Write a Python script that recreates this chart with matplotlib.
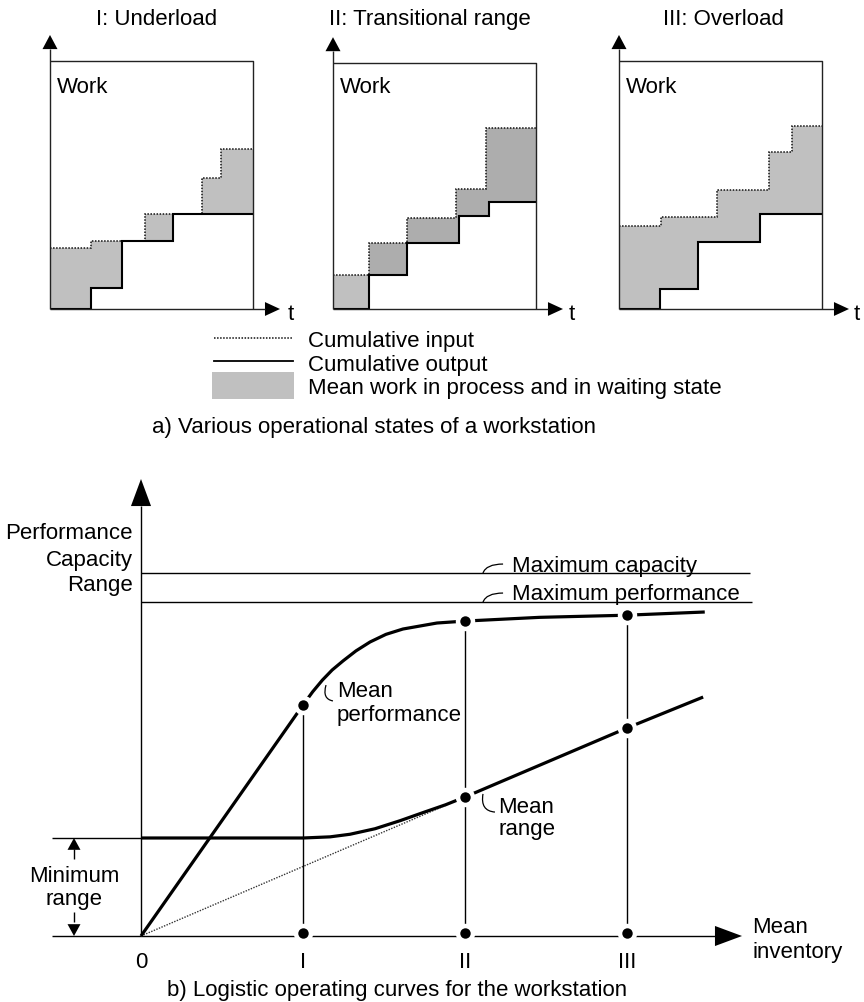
import numpy as np
import matplotlib.pyplot as plt
from matplotlib.path import Path
from matplotlib.patches import PathPatch, Rectangle

plt.rcParams['font.family'] = ['Liberation Sans', 'DejaVu Sans']
plt.rcParams['font.size'] = 16

'''
a) operating states of a workstation (throughput diagrams)
b) logistic operating curves
'''

# --- a) cumulative input / output staircases (time and work in % of the frame)
panel_titles = ['I: Underload', 'II: Transitional range', 'III: Overload']

underload_in_t = [0, 20, 47, 75, 84, 100]
underload_in_w = [24.5, 27.5, 38.3, 53.0, 64.5]
underload_out_t = [0, 20, 35.5, 60.6, 100]
underload_out_w = [0, 8.5, 27.5, 38.3]

transit_in_t = [0, 17.7, 36.5, 60.6, 75.4, 100]
transit_in_w = [13.7, 27.0, 37.1, 48.8, 73.4]
transit_out_t = [0, 17.7, 36.5, 62.1, 76.8, 100]
transit_out_w = [0, 13.7, 27.0, 37.9, 43.5]

overload_in_t = [0, 20.6, 48.5, 74.0, 85.3, 100]
overload_in_w = [33.5, 37.1, 48.0, 63.3, 73.8]
overload_out_t = [0, 20.1, 38.7, 69.6, 100]
overload_out_w = [0, 8.1, 27.0, 38.3]

legend_labels = ['Cumulative input', 'Cumulative output',
                 'Mean work in process and in waiting state']

# --- b) logistic operating curves (mean inventory vs. performance / range)
inv_ticks = [0, 1, 2, 3]
inv_labels = ['0', 'I', 'II', 'III']
max_capacity = 2.24
max_performance = 2.06
min_range = 0.605

perf_x = [0, 1.0, 1.06, 1.12, 1.18, 1.247, 1.327, 1.414, 1.512, 1.617, 1.827, 2.0, 2.46, 2.99, 3.48]
perf_y = [0, 1.426, 1.508, 1.58, 1.642, 1.698, 1.76, 1.815, 1.862, 1.895, 1.932, 1.944, 1.967, 1.98, 2.0]

range_x = [0, 1.0, 1.167, 1.29, 1.444, 1.6, 1.75, 1.88, 2.0, 3.0, 3.47]
range_y = [0.605, 0.605, 0.612, 0.628, 0.662, 0.712, 0.765, 0.81, 0.858, 1.284, 1.475]

ideal_range_x = [0, 2.0]
ideal_range_y = [0, 0.858]

state_x = [1, 2, 3]
state_perf = [1.426, 1.944, 1.98]
range_state_x = [2, 3]
range_state_y = [0.858, 1.284]

W, H = 864, 1003
fig = plt.figure(figsize=(W / 100, H / 100), dpi=100)


def px_axes(left, top, right, bottom):
    return fig.add_axes([left / W, 1 - bottom / H, (right - left) / W, (bottom - top) / H])


# overlay in pixel coordinates for texts and legend samples
ov = fig.add_axes([0, 0, 1, 1])
ov.set_xlim(0, W)
ov.set_ylim(H, 0)
ov.axis('off')

panel_left = [50, 333, 619]
panel_top = [62, 64, 62]
panel_bottom = 310
panel_width = 203
title_cx = [157, 430, 723]
t_label_x = [288, 569, 854]

panels = [
    (underload_in_t, underload_in_w, underload_out_t, underload_out_w, '#c0c0c0', '#c0c0c0'),
    (transit_in_t, transit_in_w, transit_out_t, transit_out_w, '#c0c0c0', '#adadad'),
    (overload_in_t, overload_in_w, overload_out_t, overload_out_w, '#c0c0c0', '#c0c0c0'),
]

for i, (in_t, in_w, out_t, out_w, first_col, rest_col) in enumerate(panels):
    ax = px_axes(panel_left[i], panel_top[i], panel_left[i] + panel_width, panel_bottom)
    ax.set_xlim(0, 100)
    ax.set_ylim(0, 100)
    ax.axis('off')

    # shaded work in process between input and output
    edges = np.union1d(in_t, out_t)
    for k in range(len(edges) - 1):
        a, b = edges[k], edges[k + 1]
        mid = (a + b) / 2
        hi = in_w[np.searchsorted(in_t, mid) - 1]
        lo = out_w[np.searchsorted(out_t, mid) - 1]
        if hi > lo:
            col = first_col if k == 0 else rest_col
            ax.fill_between([a, b], lo, hi, color=col, lw=0)

    ax.stairs(in_w, in_t, baseline=None, color='#111111', lw=1.1, ls=(0, (1, 1)))
    ax.stairs(out_w, out_t, baseline=None, color='k', lw=1.5)

    # frame with axis arrows
    kw = dict(color='#222222', lw=1.0, clip_on=False, solid_capstyle='butt')
    ax.plot([0, 0], [0, 104.8], **kw)
    ax.plot([0, 105.9], [0, 0], **kw)
    ax.plot([0, 100, 100], [100, 100, 0], **kw)
    ax.fill([-3.7, 3.7, 0], [104.8, 104.8, 110.5], color='k', clip_on=False, lw=0)
    ax.fill([105.9, 105.9, 113.3], [-2.8, 2.8, 0], color='k', clip_on=False, lw=0)

    ov.text(title_cx[i], 25, panel_titles[i], ha='center', va='baseline')
    ov.text(panel_left[i] + 7, 93, 'Work', ha='left', va='baseline')
    ov.text(t_label_x[i], 320, 't', ha='left', va='baseline')

# legend
ov.plot([214, 292], [339, 339], color='#111111', lw=1.1, ls=(0, (1, 1)))
ov.plot([214, 293], [362, 362], color='k', lw=1.3)
ov.add_patch(Rectangle((212, 373), 82, 27, color='#c0c0c0', lw=0))
for lab, yb in zip(legend_labels, [347, 371, 394]):
    ov.text(308, yb, lab, ha='left', va='baseline')
ov.text(152, 433, 'a) Various operational states of a workstation', ha='left', va='baseline')

# --- b) operating curves
ox, oy, sc = 141, 937, 162.0
ax_b = px_axes(40, 470, 864, 975)
ax_b.set_xlim((40 - ox) / sc, (864 - ox) / sc)
ax_b.set_ylim((oy - 975) / sc, (oy - 470) / sc)
ax_b.axis('off')

thin = dict(color='k', lw=1.0, solid_capstyle='butt')
ax_b.plot([0, 0], [0, 2.654], **thin)
ax_b.fill([-0.062, 0.062, 0], [2.654, 2.654, 2.821], color='k', lw=0)
ax_b.plot([-0.549, 3.543], [0, 0], **thin)
ax_b.fill([3.543, 3.543, 3.71], [-0.062, 0.062, 0], color='k', lw=0)

ax_b.plot([0, 3.759], [max_capacity, max_capacity], **thin)
ax_b.plot([0, 3.772], [max_performance, max_performance], **thin)
ax_b.plot([-0.549, 0], [min_range, min_range], **thin)

# minimum range dimension arrows
mx = -0.4136
ax_b.plot([mx, mx], [0.475, 0.537], **thin)
ax_b.fill([mx - 0.04, mx + 0.04, mx], [0.532, 0.532, min_range], color='k', lw=0)
ax_b.plot([mx, mx], [0.148, 0.0864], **thin)
ax_b.fill([mx - 0.04, mx + 0.04, mx], [0.073, 0.073, 0], color='k', lw=0)

ax_b.vlines(state_x, 0, state_perf, color='k', lw=1.0)
ax_b.plot(ideal_range_x, ideal_range_y, color='#333333', lw=1.0, ls=(0, (1, 1)))
ax_b.plot(range_x, range_y, color='k', lw=2.3, solid_capstyle='butt')
ax_b.plot(perf_x, perf_y, color='k', lw=2.3, solid_capstyle='butt')

dot_x = state_x + range_state_x + state_x
dot_y = state_perf + range_state_y + [0.02] * len(state_x)
ax_b.plot(dot_x, dot_y, 'o', ms=14, color='white', mew=0, zorder=5)
ax_b.plot(dot_x, dot_y, 'o', ms=7.5, color='k', mew=0, zorder=6)

# leader curves for labels
leaders = [
    [(2.111, max_capacity), (2.13, 2.296), (2.235, 2.296)],
    [(2.111, max_performance), (2.13, 2.117), (2.235, 2.117)],
    [(1.142, 1.549), (1.117, 1.463), (1.185, 1.451)],
    [(2.111, 0.877), (2.093, 0.772), (2.185, 0.765)],
]
for pts in leaders:
    path = Path(pts, [Path.MOVETO, Path.CURVE3, Path.CURVE3])
    ax_b.add_patch(PathPatch(path, fill=False, color='k', lw=0.9))

for x, lab in zip(inv_ticks, inv_labels):
    ax_b.text(x, (oy - 968) / sc, lab, ha='center', va='baseline')

ov.text(133, 539, 'Performance', ha='right', va='baseline')
ov.text(133, 566, 'Capacity', ha='right', va='baseline')
ov.text(133, 591, 'Range', ha='right', va='baseline')
ov.text(512, 572, 'Maximum capacity', ha='left', va='baseline')
ov.text(512, 600, 'Maximum performance', ha='left', va='baseline')
ov.text(337, 697, 'Mean', ha='left', va='baseline')
ov.text(337, 721, 'performance', ha='left', va='baseline')
ov.text(498, 813, 'Mean', ha='left', va='baseline')
ov.text(498, 835, 'range', ha='left', va='baseline')
ov.text(74, 882, 'Minimum', ha='center', va='baseline')
ov.text(74, 905, 'range', ha='center', va='baseline')
ov.text(752, 933, 'Mean', ha='left', va='baseline')
ov.text(752, 958, 'inventory', ha='left', va='baseline')
ov.text(167, 996, 'b) Logistic operating curves for the workstation', ha='left', va='baseline')

fig.savefig('out.png', dpi=100)
